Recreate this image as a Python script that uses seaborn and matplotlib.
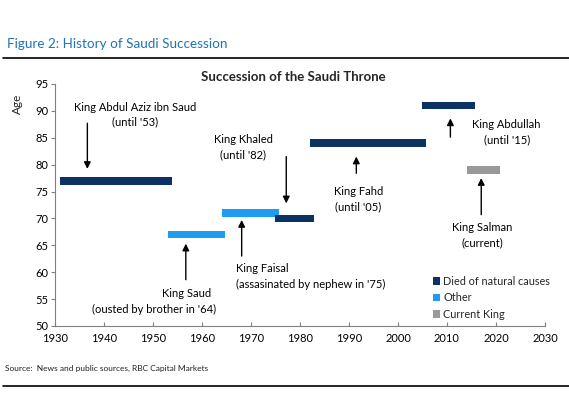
import numpy as np
import pandas as pd
import matplotlib
matplotlib.use("Agg")
import matplotlib.pyplot as plt
from matplotlib.patches import Patch
from matplotlib.lines import Line2D
import seaborn as sns

sns.set_style("ticks")
plt.rcParams['font.family'] = ['Lato', 'DejaVu Sans']

# data
kings = ["Abdul Aziz ibn Saud", "Saud", "Faisal", "Khaled", "Fahd", "Abdullah", "Salman"]
start_year = [1931, 1953, 1964, 1975, 1982, 2005, 2014]
end_year = [1953.8, 1964.7, 1975.8, 1982.9, 2005.8, 2015.8, 2020.8]
age = [77, 67, 71, 70, 84, 91, 79]
status = ["Died of natural causes", "Other", "Other", "Died of natural causes",
          "Died of natural causes", "Died of natural causes", "Current King"]

labels = ["King Abdul Aziz ibn Saud\n(until '53)", "King Saud", "King Faisal\n(assasinated by nephew in '75)",
          "King Khaled\n(until '82)", "King Fahd\n(until '05)", "King Abdullah\n(until '15)",
          "King Salman\n(current)"]

colors = {"Died of natural causes": "#0c3263", "Other": "#1e9cf0", "Current King": "#999999"}

df = pd.DataFrame({"king": kings, "start": start_year, "end": end_year, "age": age, "status": status})
df["length"] = df["end"] - df["start"]

fig = plt.figure(figsize=(5.69, 3.98), dpi=100)
ax = fig.add_axes([0.0967, 0.181, 0.861, 0.608])

ax.barh(df["age"], df["length"], left=df["start"], height=1.45,
        color=[colors[s] for s in df["status"]], edgecolor="none")

# annotation layout: text pos, alignment, arrow tail, arrow tip
ann = [
    (1946.4, 89.3, "center", (1936.6, 87.7), (1936.6, 79.2)),
    (1956.9, 56.1, "center", (1956.7, 58.6), (1956.7, 65.3)),
    (1967.0, 59.2, "left", (1968.1, 63.0), (1968.1, 69.7)),
    (1968.4, 83.3, "center", (1977.2, 81.5), (1977.2, 72.8)),
    (1991.9, 73.6, "center", (1991.5, 78.4), (1991.5, 81.5)),
    (2022.2, 86.0, "center", (2010.7, 85.1), (2010.7, 88.6)),
    (2017.2, 66.9, "center", (2017.0, 70.7), (2017.0, 77.5)),
]
for lab, (tx, ty, ha, tail, tip) in zip(labels, ann):
    ax.text(tx, ty, lab, ha=ha, va="center", fontsize=8, color="black", linespacing=1.45)
    ax.annotate("", xy=tip, xytext=tail,
                arrowprops=dict(arrowstyle="-|>", color="black", lw=1.0, mutation_scale=10, shrinkA=0, shrinkB=0))
ax.text(1950.2, 53.1, "(ousted by brother in '64)", ha="center", va="center", fontsize=8, color="black")

ax.set_xlim(1930, 2030)
ax.set_ylim(50, 95)
ax.set_xticks(np.arange(1930, 2031, 10))
ax.set_yticks(np.arange(50, 96, 5))
ax.tick_params(axis="x", direction="in", length=3, labelsize=8, color="#808080", pad=5, labelcolor="black")
ax.tick_params(axis="y", direction="out", length=3, labelsize=8, color="#808080", pad=2, labelcolor="black")
sns.despine(ax=ax)
for sp in ["left", "bottom"]:
    ax.spines[sp].set_color("#808080")
    ax.spines[sp].set_linewidth(0.8)

ax.set_ylabel("Age", fontsize=8.5)
ax.yaxis.set_label_coords(-0.066, 0.92)

handles = [Patch(facecolor=colors[k], edgecolor="none", label=k) for k in colors]
ax.legend(handles=handles, loc="lower right", bbox_to_anchor=(1.03, -0.015), frameon=False, fontsize=7.8,
          handlelength=0.7, handleheight=0.7, handletextpad=0.25, labelspacing=0.5)

fig.text(0.515, 0.806, "Succession of the Saudi Throne", ha="center", va="center",
         fontsize=9.5, fontweight="bold")
fig.text(0.012, 0.889, "Figure 2: History of Saudi Succession", ha="left", va="center",
         fontsize=9.7, color="#1f72b8")
fig.text(0.008, 0.075, "Source:  News and public sources, RBC Capital Markets", ha="left", va="center",
         fontsize=6.0, color="#222222")
fig.add_artist(Line2D([0.005, 1.0], [0.854, 0.854], color="black", lw=1.2))
fig.add_artist(Line2D([0.005, 1.0], [0.030, 0.030], color="black", lw=1.2))

fig.savefig("out.png", dpi=100)
